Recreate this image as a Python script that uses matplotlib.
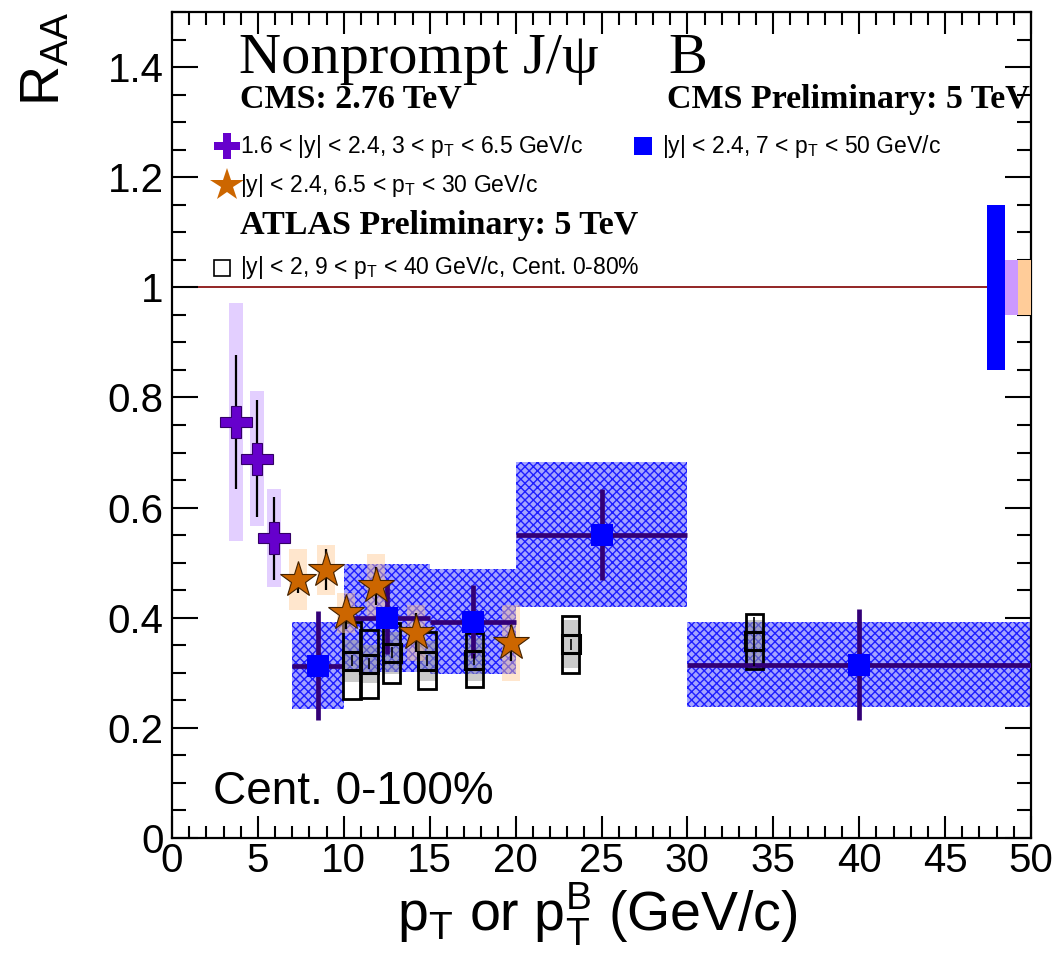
import numpy as np
import matplotlib
matplotlib.use('Agg')
import matplotlib.pyplot as plt
from matplotlib.patches import Rectangle
from matplotlib.ticker import MultipleLocator

plt.rcParams['font.family'] = ['Liberation Sans', 'DejaVu Sans']
plt.rcParams['mathtext.fontset'] = 'custom'
plt.rcParams['mathtext.rm'] = 'Liberation Sans'
plt.rcParams['hatch.linewidth'] = 1.0

# CMS 2.76 TeV, 1.6<|y|<2.4, 3<pT<6.5
fwd_x = [3.73, 4.95, 5.94]
fwd_y = [0.755, 0.689, 0.544]
fwd_stat = [0.122, 0.106, 0.075]
fwd_syst = [0.216, 0.123, 0.089]

# CMS 2.76 TeV, |y|<2.4, 6.5<pT<30
mid_x = [7.33, 8.96, 10.13, 11.87, 14.2, 19.73]
mid_y = [0.469, 0.487, 0.409, 0.458, 0.373, 0.354]
mid_stat = [0.024, 0.037, 0.029, 0.034, 0.035, 0.032]
mid_syst = [0.055, 0.045, 0.036, 0.058, 0.051, 0.069]

# CMS Preliminary 5 TeV, |y|<2.4, 7<pT<50
cms5_lo = [7, 10, 15, 20, 30]
cms5_hi = [10, 15, 20, 30, 50]
cms5_y = [0.313, 0.400, 0.393, 0.551, 0.315]
cms5_stat = [0.099, 0.066, 0.066, 0.082, 0.100]
cms5_syst = [0.079, 0.098, 0.095, 0.132, 0.077]

# ATLAS Preliminary 5 TeV, |y|<2, 9<pT<40, 0-80%
atlas_x = [10.48, 11.47, 12.8, 14.84, 17.6, 23.2, 33.9]
atlas_y = [0.322, 0.316, 0.336, 0.322, 0.324, 0.352, 0.357]
atlas_stat = [0.01, 0.01, 0.01, 0.01, 0.01, 0.01, 0.045]
atlas_unc = [0.070, 0.061, 0.055, 0.052, 0.049, 0.052, 0.050]
atlas_cor = [0.038, 0.034, 0.038, 0.036, 0.039, 0.043, 0.039]

# global uncertainties at R=1
glob_cms5 = 0.15
glob_fwd = 0.05
glob_mid = 0.05

fig = plt.figure(figsize=(10.6, 9.61), dpi=100)
ax = fig.add_axes([172/1060, 1-838/961, 859/1060, 826/961])
ax.set_xlim(0, 50)
ax.set_ylim(0, 1.5)

ax.axhline(1.0, color='#800000', lw=1.2, zorder=1)

# CMS 5 TeV hatched syst boxes
for lo, hi, y, s in zip(cms5_lo, cms5_hi, cms5_y, cms5_syst):
    ax.add_patch(Rectangle((lo, y - s), hi - lo, 2 * s, facecolor='#a4a4ff',
                           edgecolor='#1e1eff', hatch='xxxx', lw=0, zorder=2))

# ATLAS boxes
for x, y, u, c in zip(atlas_x, atlas_y, atlas_unc, atlas_cor):
    ax.add_patch(Rectangle((x - 0.5, y - c), 1.0, 2 * c, facecolor='#999999',
                           alpha=0.5, lw=0, zorder=3))
    ax.add_patch(Rectangle((x - 0.5, y - u), 1.0, 2 * u, facecolor='none',
                           edgecolor='black', lw=2, zorder=4))

# CMS 2.76 syst boxes
for x, y, s in zip(fwd_x, fwd_y, fwd_syst):
    ax.add_patch(Rectangle((x - 0.4, y - s), 0.8, 2 * s, facecolor='#c8a0ff',
                           alpha=0.5, lw=0, zorder=5))
for x, y, s in zip(mid_x, mid_y, mid_syst):
    ax.add_patch(Rectangle((x - 0.5, y - s), 1.0, 2 * s, facecolor='#ffc890',
                           alpha=0.45, lw=0, zorder=5))

# global boxes
ax.add_patch(Rectangle((47.45, 1 - glob_cms5), 1.05, 2 * glob_cms5, facecolor='#0000ff', lw=0, zorder=5))
ax.add_patch(Rectangle((48.5, 1 - glob_fwd), 0.75, 2 * glob_fwd, facecolor='#cc99ff', lw=0, zorder=5))
ax.add_patch(Rectangle((49.25, 1 - glob_mid), 0.75, 2 * glob_mid, facecolor='#ffcc99', lw=0, zorder=5))

# CMS 5 TeV points
cx = [(a + b) / 2 for a, b in zip(cms5_lo, cms5_hi)]
xerr = [(b - a) / 2 for a, b in zip(cms5_lo, cms5_hi)]
ax.errorbar(cx, cms5_y, xerr=xerr, yerr=cms5_stat, fmt='none', ecolor='#330077',
            elinewidth=3.4, capsize=0, zorder=6)
ax.plot(cx, cms5_y, 's', color='#0000ff', ms=16, mew=0, zorder=7)

# ATLAS points
ax.errorbar(atlas_x, atlas_y, yerr=atlas_stat, fmt='none', ecolor='black',
            elinewidth=1.2, capsize=0, zorder=6)
ax.plot(atlas_x, atlas_y, 's', mfc='none', mec='black', ms=13, mew=2.2, zorder=7)

# CMS 2.76 points
ax.errorbar(fwd_x, fwd_y, yerr=fwd_stat, fmt='none', ecolor='black',
            elinewidth=1.6, capsize=0, zorder=8)
ax.plot(fwd_x, fwd_y, 'P', color='#6600cc', mec='#330066', mew=0.8, ms=23, zorder=9)
ax.errorbar(mid_x, mid_y, yerr=mid_stat, fmt='none', ecolor='black',
            elinewidth=1.6, capsize=0, zorder=8)
ax.plot(mid_x, mid_y, '*', color='#cc6600', mec='#442200', mew=0.8, ms=27, zorder=9)

# texts
ax.text(3.9, 1.415, 'Nonprompt J/\u03c8', family='Liberation Serif', fontsize=42, va='center')
ax.text(28.9, 1.415, 'B', family='Liberation Serif', fontsize=42, va='center')
ax.text(3.96, 1.342, 'CMS: 2.76 TeV', family='Liberation Serif', fontweight='bold', fontsize=24.5, va='center')
ax.text(49.95, 1.342, 'CMS Preliminary: 5 TeV', family='Liberation Serif', fontweight='bold',
        fontsize=24.5, va='center', ha='right')
ax.text(3.96, 1.113, 'ATLAS Preliminary: 5 TeV', family='Liberation Serif', fontweight='bold',
        fontsize=24.5, va='center')

pt = r'p$_\mathregular{T}$'
ax.plot([3.2], [1.256], 'P', color='#6600cc', ms=19, mew=0, clip_on=False)
ax.text(3.96, 1.256, '1.6 < |y| < 2.4, 3 < ' + pt + ' < 6.5 GeV/c', fontsize=16.5, va='center')
ax.plot([3.2], [1.185], '*', color='#cc6600', ms=25, mew=0, clip_on=False)
ax.text(3.96, 1.185, '|y| < 2.4, 6.5 < ' + pt + ' < 30 GeV/c', fontsize=16.5, va='center')
ax.plot([27.4], [1.256], 's', color='#0000ff', ms=13, mew=0)
ax.text(28.5, 1.256, '|y| < 2.4, 7 < ' + pt + ' < 50 GeV/c', fontsize=16.5, va='center')
ax.plot([2.9], [1.036], 's', mfc='none', mec='black', ms=11, mew=1.2)
ax.text(3.96, 1.036, '|y| < 2, 9 < ' + pt + ' < 40 GeV/c, Cent. 0-80%', fontsize=16.5, va='center')

ax.text(2.4, 0.084, 'Cent. 0-100%', fontsize=33, va='center')

# axes style
ax.xaxis.set_major_locator(MultipleLocator(5))
ax.xaxis.set_minor_locator(MultipleLocator(1))
ax.yaxis.set_minor_locator(MultipleLocator(0.05))
ax.set_yticks([0, 0.2, 0.4, 0.6, 0.8, 1.0, 1.2, 1.4])
ax.set_yticklabels(['0', '0.2', '0.4', '0.6', '0.8', '1', '1.2', '1.4'])
ax.tick_params(which='both', direction='in', top=True, right=True, width=1.5, labelsize=29)
ax.tick_params(axis='x', which='major', length=16, pad=3)
ax.tick_params(axis='x', which='minor', length=9)
ax.tick_params(axis='y', which='major', length=19, pad=6)
ax.tick_params(axis='y', which='minor', length=10)
for sp in ax.spines.values():
    sp.set_linewidth(1.6)

ax.text(-0.148, 1.0, r'R$_\mathregular{AA}$', transform=ax.transAxes, rotation=90,
        fontsize=40, ha='center', va='top')
ax.text(0.495, -0.092, r'p$_\mathregular{T}$ or p$^\mathregular{B}_\mathregular{T}$ (GeV/c)',
        transform=ax.transAxes, fontsize=40, ha='center', va='center')

fig.savefig('out.png', dpi=100)
